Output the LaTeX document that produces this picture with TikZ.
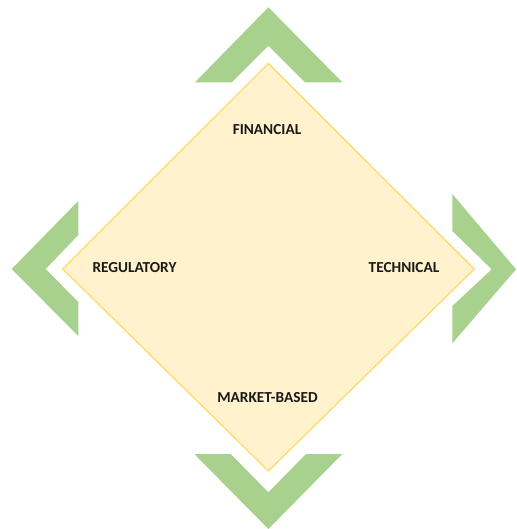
\documentclass[tikz,border=0pt]{standalone}
\usepackage{fontspec}
\setmainfont{Carlito}
\definecolor{chev}{HTML}{A9D18E}
\definecolor{dfill}{HTML}{FFF2CC}
\definecolor{dline}{HTML}{FFD966}
\definecolor{txt}{HTML}{1A1A1A}
\tikzset{
  chevron/.style={fill=chev, draw=none},
  lbl/.style={font=\bfseries\fontsize{15.3}{17}\selectfont, text=txt, inner sep=0pt}
}
\begin{document}
\begin{tikzpicture}[x=1pt,y=-1pt]
\useasboundingbox (0,0) rectangle (516,529);
% diamond
\draw[fill=dfill, draw=dline, line width=1.2pt, line join=miter]
  (268.4,63.5) -- (474.3,269) -- (268.4,471) -- (62.7,269) -- cycle;
% top chevron
\fill[chevron] (268.4,7.3) -- (342.3,82.3) -- (305,82.3) -- (268.4,45.7) -- (231.7,82.3) -- (195,82.3) -- cycle;
% bottom chevron
\fill[chevron] (268.4,529) -- (342.3,454) -- (306,454) -- (268.4,492.3) -- (230.7,454) -- (194.3,454) -- cycle;
% left chevron
\fill[chevron] (11.7,269) -- (78.3,201) -- (78.3,235) -- (45.7,269) -- (78.3,302) -- (78.3,336) -- cycle;
% right chevron
\fill[chevron] (516,269.3) -- (452.3,194) -- (452.3,231) -- (491.7,269.3) -- (452.3,306) -- (452.3,343.3) -- cycle;
% labels
\node[lbl] (fin) at (267,130) {FINANCIAL};
\node[lbl] (reg) at (134.5,267.5) {REGULATORY};
\node[lbl] (tec) at (404,267.5) {TECHNICAL};
\node[lbl] (mkt) at (267.5,397.5) {MARKET-BASED};
\end{tikzpicture}
\end{document}
